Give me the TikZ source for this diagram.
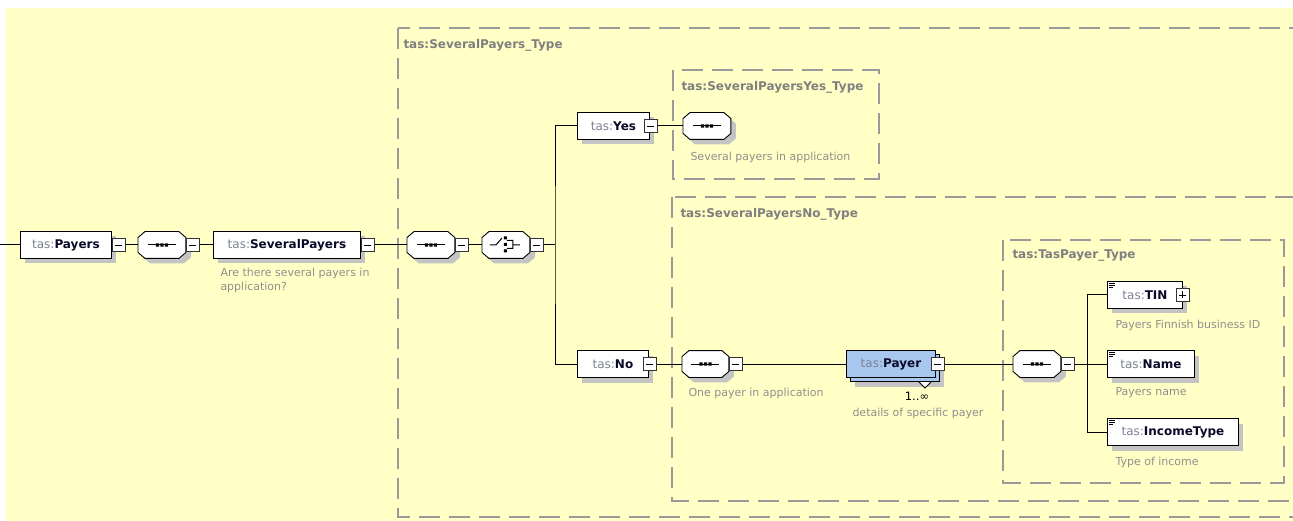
\documentclass[tikz,border=0pt]{standalone}
\usepackage{fontspec}
\setmainfont{DejaVu Sans}
\usepackage{tikz}
\usetikzlibrary{shadows}
\definecolor{bgyellow}{HTML}{FFFFC6}
\definecolor{tasgray}{HTML}{7D8290}
\definecolor{namecol}{HTML}{0A0A28}
\definecolor{descgray}{HTML}{8F8F8F}
\definecolor{typegray}{HTML}{7F7F7F}
\definecolor{dashgray}{HTML}{9A9A9A}
\definecolor{shadowgray}{HTML}{C4C4C4}
\definecolor{payerblue}{HTML}{A7C7EE}
\newcommand{\tasname}[1]{{\color{tasgray}tas:}{\color{namecol}\bfseries #1}}

\newdimen\octl \newdimen\octb \newdimen\octr \newdimen\octt
\makeatletter
\pgfdeclareshape{octbox}{
  \inheritsavedanchors[from=rectangle]
  \inheritanchorborder[from=rectangle]
  \inheritanchor[from=rectangle]{center}
  \inheritanchor[from=rectangle]{north}
  \inheritanchor[from=rectangle]{south}
  \inheritanchor[from=rectangle]{east}
  \inheritanchor[from=rectangle]{west}
  \inheritanchor[from=rectangle]{north east}
  \inheritanchor[from=rectangle]{north west}
  \inheritanchor[from=rectangle]{south east}
  \inheritanchor[from=rectangle]{south west}
  \backgroundpath{
    \southwest \octl=\pgf@x \octb=\pgf@y
    \northeast \octr=\pgf@x \octt=\pgf@y
    \pgfpathmoveto{\pgfqpoint{\octl}{\dimexpr\octb+6pt\relax}}
    \pgfpathlineto{\pgfqpoint{\dimexpr\octl+7pt\relax}{\octb}}
    \pgfpathlineto{\pgfqpoint{\dimexpr\octr-7pt\relax}{\octb}}
    \pgfpathlineto{\pgfqpoint{\octr}{\dimexpr\octb+6pt\relax}}
    \pgfpathlineto{\pgfqpoint{\octr}{\dimexpr\octt-6pt\relax}}
    \pgfpathlineto{\pgfqpoint{\dimexpr\octr-7pt\relax}{\octt}}
    \pgfpathlineto{\pgfqpoint{\dimexpr\octl+7pt\relax}{\octt}}
    \pgfpathlineto{\pgfqpoint{\octl}{\dimexpr\octt-6pt\relax}}
    \pgfpathclose
  }
}
\makeatother

\begin{document}
\begin{tikzpicture}[x=1pt,y=-1pt,line width=1pt,
    box/.style={draw=black,fill=white,line width=0.9pt,minimum height=27,inner sep=0pt,anchor=west,font=\fontsize{12}{14}\selectfont},
    elem/.style={box,drop shadow={shadow xshift=5pt,shadow yshift=-5pt,fill=shadowgray,opacity=1}},
    comp/.style={octbox,draw=black,fill=white,line width=0.9pt,minimum width=47,minimum height=26,inner sep=0pt,anchor=west,drop shadow={shadow xshift=5pt,shadow yshift=-5pt,fill=shadowgray,opacity=1}},
    seq/.style={comp,path picture={\draw[black,line width=1pt,shift={(path picture bounding box.center)}] (-14,0) -- (14,0);
      \fill[black,shift={(path picture bounding box.center)}] (-6.2,-1.7) rectangle ++(3.4,3.4) (-1.7,-1.7) rectangle ++(3.4,3.4) (2.8,-1.7) rectangle ++(3.4,3.4);}},
    choice/.style={comp,path picture={\draw[black,line width=1pt,shift={(path picture bounding box.center)}] (-16,0) -- (-10,0) -- (-4,-7) (1,-4.5) -- (7,-4.5) -- (7,3.5) -- (1,3.5) (7,0) -- (14,0);
      \fill[black,shift={(path picture bounding box.center)}] (-2,-8.5) rectangle ++(3,3) (-2,-2) rectangle ++(3,3) (-2,4.5) rectangle ++(3,3);}},
    pm/.style={draw=black!80,fill=white,line width=0.8pt,minimum size=13,inner sep=0pt,path picture={\draw[black,line width=0.9pt,shift={(path picture bounding box.center)}] (-3.5,0) -- (3.5,0);}},
    pp/.style={pm,path picture={\draw[black,line width=0.9pt,shift={(path picture bounding box.center)}] (-3.5,0) -- (3.5,0) (0,-3.5) -- (0,3.5);}},
    desc/.style={anchor=west,inner sep=0pt,text=descgray,font=\fontsize{11}{14}\selectfont,align=left},
    typelbl/.style={anchor=west,inner sep=0pt,text=typegray,font=\fontsize{12}{14}\selectfont\bfseries},
    typebox/.style={draw=dashgray,line width=1.3pt,dash pattern=on 21pt off 9pt}]
  \useasboundingbox (0,0) rectangle (1293,521);
  \clip (0,0) rectangle (1293,521);
  \fill[white] (0,0) rectangle (1293,521);
  \fill[bgyellow] (6,8) rectangle (1300,530);

  \draw[typebox] (398,28) rectangle (1310,517);
  \draw[typebox] (673,70) rectangle (879,179);
  \draw[typebox] (672,197) rectangle (1310,501);
  \draw[typebox] (1003,240) rectangle (1284,483);
  \node[typelbl] (severaltype) at (403,45) {tas:SeveralPayers\_Type};
  \node[typelbl] (yestype) at (681,87) {tas:SeveralPayersYes\_Type};
  \node[typelbl] (notype) at (680,214) {tas:SeveralPayersNo\_Type};
  \node[typelbl] (tastype) at (1012,256) {tas:TasPayer\_Type};

  \coordinate (start) at (0,245);
  \node[elem,minimum width=91] (payers) at (20,245) {\tasname{Payers}};
  \node[pm] (payersm) at ([xshift=7pt]payers.east) {};
  \node[seq] (seqa) at (138,245) {};
  \node[pm,anchor=west] (seqam) at (seqa.east) {};
  \node[elem,minimum width=147] (several) at (213,245) {\tasname{SeveralPayers}};
  \node[pm] (severalm) at ([xshift=7pt]several.east) {};
  \node[desc,anchor=north west] (severald) at (220,268) {Are there several payers in\\application?};
  \node[seq] (seqb) at (407,245) {};
  \node[pm,anchor=west] (seqbm) at (seqb.east) {};
  \node[choice] (choice) at (482,245) {};
  \node[pm,anchor=west] (choicem) at (choice.east) {};
  \coordinate (fork) at (555,245);

  \node[elem,minimum width=72] (yes) at (577,126) {\tasname{Yes}};
  \node[pm] (yesm) at ([xshift=1pt]yes.east) {};
  \node[seq] (seqyes) at (683,126) {};
  \node[desc] (yesd) at (690,157) {Several payers in application};

  \node[elem,minimum width=71] (no) at (577,364) {\tasname{No}};
  \node[pm] (nom) at ([xshift=1pt]no.east) {};
  \node[seq,minimum width=46] (seqno) at (682,364) {};
  \node[pm,anchor=west] (seqnom) at (seqno.east) {};
  \node[desc] (nod) at (688,393) {One payer in application};

  \node[box,fill=payerblue,minimum width=89,
    drop shadow={shadow xshift=9pt,shadow yshift=-9pt,fill=shadowgray,opacity=1},
    copy shadow={shadow xshift=4pt,shadow yshift=-4pt,draw=black,fill=payerblue,line width=0.9pt}] (payer) at (846,364) {\tasname{Payer}};
  \node[pm] (payerm) at ([xshift=2pt]payer.east) {};
  \draw[line width=0.9pt,fill=white] (919,382) -- (925,388) -- (931,382);
  \node[inner sep=0pt,font=\fontsize{11.5}{13}\selectfont] (payerocc) at (917,396) {1..∞};
  \node[desc] (payerd) at (852,413) {details of specific payer};

  \node[seq] (seqtas) at (1013,364) {};
  \node[pm,anchor=west] (seqtasm) at (seqtas.east) {};
  \coordinate (fork2) at (1087,364);
  \node[elem,minimum width=75] (tin) at (1107,295) {\tasname{TIN}};
  \node[pp] (tinp) at (tin.east) {};
  \node[desc] (tind) at (1115,325) {Payers Finnish business ID};
  \node[elem,minimum width=87] (name) at (1107,364) {\tasname{Name}};
  \node[desc] (named) at (1115,393) {Payers name};
  \node[elem,minimum width=131] (income) at (1107,432) {\tasname{IncomeType}};
  \node[desc] (incomed) at (1115,462) {Type of income};
  \foreach \n in {tin,name,income}
    \draw[line width=0.8pt] ([shift={(2,2.5)}]\n.north west) -- ++(6,0) ([shift={(2,4.5)}]\n.north west) -- ++(6,0) ([shift={(2,6.5)}]\n.north west) -- ++(4,0);

  \draw (start) -- (payers.west);
  \draw (payersm.east) -- (seqa.west);
  \draw (seqam.east) -- (several.west);
  \draw (severalm.east) -- (seqb.west);
  \draw (seqbm.east) -- (choice.west);
  \draw (choicem.east) -- (fork);
  \draw (yes.west) -| (fork) |- (no.west);
  \draw (yesm.east) -- (seqyes.west);
  \draw (nom.east) -- (seqno.west);
  \draw (seqnom.east) -- (payer.west);
  \draw (payerm.east) -- (seqtas.west);
  \draw (seqtasm.east) -- (name.west);
  \draw (tin.west) -| (fork2) |- (income.west);
\end{tikzpicture}
\end{document}
